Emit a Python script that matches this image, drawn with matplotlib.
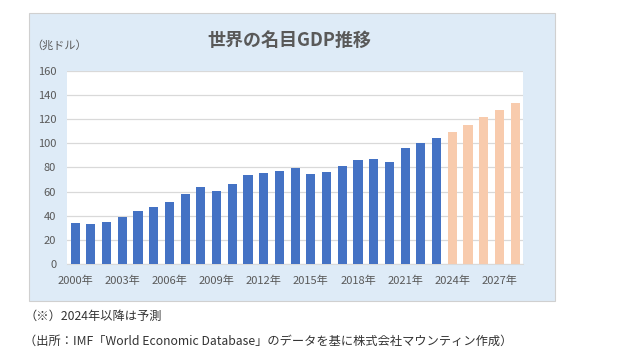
import matplotlib
matplotlib.use("Agg")
import matplotlib.pyplot as plt
from matplotlib.patches import Rectangle

plt.rcParams["font.family"] = ["Noto Sans CJK JP", "DejaVu Sans"]

# データ（単位：兆ドル）
years = list(range(2000, 2029))
gdp = [34.2, 33.3, 35.0, 39.1, 44.1, 47.4, 51.5, 58.1, 63.9, 60.6,
       66.4, 73.8, 75.5, 77.1, 79.6, 74.7, 76.3, 81.3, 86.2, 87.1,
       84.6, 96.1, 100.3, 104.4, 109.4, 115.1, 121.7, 127.8, 133.6]
forecast_from = 2024
tick_years = [2000, 2003, 2006, 2009, 2012, 2015, 2018, 2021, 2024, 2027]
y_ticks = [0, 20, 40, 60, 80, 100, 120, 140, 160]

title = "世界の名目GDP推移"
unit = "（兆ドル）"
note1 = "（※）2024年以降は予測"
note2 = "（出所：IMF「World Economic Database」のデータを基に株式会社マウンティン作成）"

BLUE = "#4472C4"
PEACH = "#F8CBAD"
GRAY = "#595959"

fig = plt.figure(figsize=(6.32, 3.62), dpi=100)

# 背景パネル
fig.patches.append(Rectangle((0.046, 0.168), 0.832, 0.796, transform=fig.transFigure,
                             facecolor="#DEEBF7", edgecolor="#D0D0D0", linewidth=0.8,
                             zorder=-1))

ax = fig.add_axes([0.1065, 0.270, 0.7210, 0.5348])
ax.set_facecolor("white")

colors = [PEACH if y >= forecast_from else BLUE for y in years]
x = range(len(years))
ax.bar(x, gdp, width=0.58, color=colors, zorder=3)

ax.set_xlim(-0.5, len(years) - 0.5)
ax.set_ylim(0, 160)
ax.set_yticks(y_ticks)
ax.set_xticks([years.index(y) for y in tick_years])
ax.set_xticklabels([f"{y}年" for y in tick_years])
ax.tick_params(axis="both", length=0, labelsize=8, colors=GRAY)
ax.tick_params(axis="y", pad=8)
ax.tick_params(axis="x", pad=8)
ax.grid(axis="y", color="#D9D9D9", linewidth=0.9, zorder=0)
for s in ["top", "right", "left"]:
    ax.spines[s].set_visible(False)
ax.spines["bottom"].set_color("#D9D9D9")

fig.text(0.457, 0.889, title, ha="center", va="center", fontsize=13,
         fontweight="bold", color=GRAY)
fig.text(0.050, 0.875, unit, ha="left", va="center", fontsize=8, color=GRAY)

fig.text(0.038, 0.125, note1, ha="left", va="center", fontsize=8.8, color="#333333")
fig.text(0.038, 0.058, note2, ha="left", va="center", fontsize=8.8, color="#333333")

fig.savefig("out.png", dpi=100)
